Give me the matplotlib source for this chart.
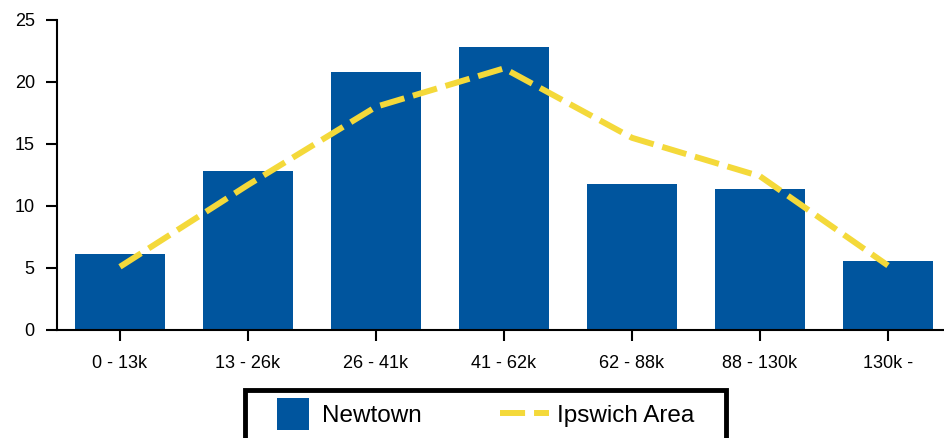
import matplotlib
matplotlib.use("Agg")
import matplotlib.pyplot as plt
from matplotlib.patches import Rectangle
from matplotlib.legend_handler import HandlerPatch

categories = ["0 - 13k", "13 - 26k", "26 - 41k", "41 - 62k", "62 - 88k", "88 - 130k", "130k -"]
newtown = [6.1, 12.8, 20.8, 22.85, 11.8, 11.4, 5.6]
ipswich = [5.1, 11.7, 18.0, 21.1, 15.5, 12.4, 5.2]
yticks = [0, 5, 10, 15, 20, 25]

bar_color = "#00559e"
line_color = "#f4d93a"

plt.rcParams['font.family'] = ['Liberation Sans', 'DejaVu Sans']

DPI = 100
PX = 72.0 / DPI  # points per pixel

fig = plt.figure(figsize=(9.44, 4.38), dpi=DPI)
ax = fig.add_axes([57/944, 108/438, (944-57)/944, 310/438])

x = list(range(len(categories)))
bars = ax.bar(x, newtown, width=0.7, color=bar_color, label="Newtown", zorder=2)
line, = ax.plot(x, ipswich, color=line_color, lw=4.3, dashes=(4.2, 1.5),
                solid_capstyle='butt', dash_capstyle='butt', label="Ipswich Area", zorder=3)

ax.set_xlim(-0.492, 6.4375)
ax.set_ylim(0, 25)
ax.set_xticks(x)
ax.set_xticklabels(categories, fontsize=13)
ax.set_yticks(yticks)
ax.set_yticklabels([str(t) for t in yticks], fontsize=13)
for s in ['top', 'right']:
    ax.spines[s].set_visible(False)
for s in ['left', 'bottom']:
    ax.spines[s].set_linewidth(1.5)
    ax.spines[s].set_color('black')
ax.tick_params(axis='both', direction='out', length=8, width=1.5, colors='black')
ax.tick_params(axis='x', pad=10)
ax.tick_params(axis='y', pad=8)


class SquareHandler(HandlerPatch):
    def create_artists(self, legend, orig_handle, xdescent, ydescent, width, height, fontsize, trans):
        side = 32 * PX
        p = Rectangle((-xdescent + 12 * PX, -ydescent + height/2 - side/2), side, side,
                      facecolor=bar_color, edgecolor='none', transform=trans)
        return [p]


leg_fs = 17.5
leg = fig.legend(handles=[bars, line], labels=["Newtown", "Ipswich Area"],
                 loc='center left', bbox_to_anchor=(265/944, 1 - 416/438),
                 borderaxespad=0, borderpad=0,
                 ncol=2, frameon=False, fontsize=leg_fs, handlelength=49 * PX / leg_fs,
                 handletextpad=8 * PX / leg_fs, columnspacing=78 * PX / leg_fs,
                 handler_map={bars.__class__: SquareHandler()})

fig.patches.append(Rectangle((245/944, -0.05), (726-245)/944, (0.05 + 1 - 390/438),
                             transform=fig.transFigure, fill=False, edgecolor='black', lw=3.5))

fig.savefig("out.png", dpi=DPI)
